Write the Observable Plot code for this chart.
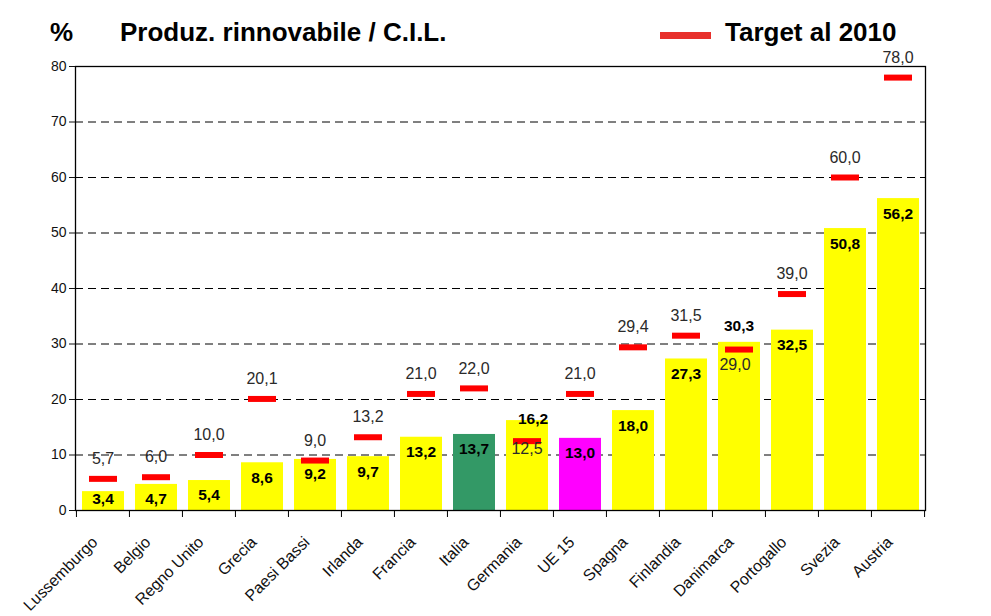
<!DOCTYPE html>
<html>
<head>
<meta charset="utf-8">
<script src="https://cdn.jsdelivr.net/npm/d3@7"></script>
<script src="https://cdn.jsdelivr.net/npm/@observablehq/plot@0.6"></script>
<style>
  html, body { margin: 0; padding: 0; background: #fff; }
  #wrap { position: relative; width: 991px; height: 616px; font-family: "Liberation Sans", Arial, sans-serif; }
  #chart { position: absolute; left: 0; top: 0; }
  .ttl { position: absolute; font-family: "Liberation Sans", Arial, sans-serif; font-weight: bold; font-size: 26px; color: #000; line-height: 1; white-space: nowrap; }
  #legline { position: absolute; left: 660px; top: 32px; width: 51px; height: 7px; background: #e8302c; }
</style>
</head>
<body>
<div id="wrap">
  <div id="chart"></div>
  <div class="ttl" style="left:50px; top:19px;">%</div>
  <div class="ttl" style="left:120px; top:19px;">Produz. rinnovabile / C.I.L.</div>
  <div id="legline"></div>
  <div class="ttl" style="left:725px; top:19px;">Target al 2010</div>
</div>
<script>
const categories = ["Lussemburgo","Belgio","Regno Unito","Grecia","Paesi Bassi","Irlanda","Francia","Italia","Germania","UE 15","Spagna","Finlandia","Danimarca","Portogallo","Svezia","Austria"];
const production = [3.4,4.7,5.4,8.6,9.2,9.7,13.2,13.7,16.2,13.0,18.0,27.3,30.3,32.5,50.8,56.2];
const target2010 = [5.7,6.0,10.0,20.1,9.0,13.2,21.0,22.0,12.5,21.0,29.4,31.5,29.0,39.0,60.0,78.0];
const yTicks = [0,10,20,30,40,50,60,70,80];

const data = categories.map((name, i) => ({name, value: production[i], target: target2010[i]}));
const fmt = v => d3.format(".1f")(v).replace(".", ",");

const W = 991, H = 616, mL = 75, mR = 66, mT = 66, mB = 106;
const step = (W - mL - mR) / categories.length;

const fillOf = d => d.name === "Italia" ? "#339966" : d.name === "UE 15" ? "#FF00FF" : "#FFFF00";

// label placement groups
const valAbove = ["Germania"];
const valAboveHigh = ["Danimarca"];
const valShort = ["Lussemburgo"];
const tgtBelow = ["Danimarca"];
const tgtBelowNear = ["Germania"];

const valNormal = data.filter(d => ![...valAbove, ...valAboveHigh, ...valShort].includes(d.name));
const tgtNormal = data.filter(d => ![...tgtBelow, ...tgtBelowNear].includes(d.name));
const pick = names => data.filter(d => names.includes(d.name));

const valStyle = {fontSize: 15.5, fontWeight: "bold", fill: "#000", fontFamily: "Liberation Sans, Arial, sans-serif"};
const tgtStyle = {fontSize: 16, fill: "#2a2a2a", fontFamily: "Liberation Sans, Arial, sans-serif"};

const chart = Plot.plot({
  width: W, height: H,
  marginLeft: mL, marginRight: mR, marginTop: mT, marginBottom: mB,
  style: {fontFamily: "Liberation Sans, Arial, sans-serif", background: "#fff", overflow: "visible"},
  x: {domain: categories, padding: 0, label: null},
  y: {domain: [0, 80], label: null},
  marks: [
    Plot.gridY(yTicks.filter(t => t > 0 && t < 80), {stroke: "#000", strokeOpacity: 1, strokeWidth: 1, strokeDasharray: "8,5"}),
    Plot.barY(data, {x: "name", y: "value", fill: fillOf, insetLeft: 6, insetRight: 5}),
    Plot.frame({stroke: "#000", strokeWidth: 1.3}),
    Plot.tickY(data, {x: "name", y: "target", stroke: "#FF0000", strokeWidth: 6, insetLeft: 13, insetRight: 12}),
    // value labels
    Plot.text(valNormal, {x: "name", y: "value", text: d => fmt(d.value), dy: 15, ...valStyle}),
    Plot.text(pick(valShort), {x: "name", y: "value", text: d => fmt(d.value), dy: 7, ...valStyle}),
    Plot.text(pick(valAbove), {x: "name", y: "value", text: d => fmt(d.value), dy: -2, dx: 6, ...valStyle}),
    Plot.text(pick(valAboveHigh), {x: "name", y: "value", text: d => fmt(d.value), dy: -16, ...valStyle}),
    // target labels
    Plot.text(tgtNormal, {x: "name", y: "target", text: d => fmt(d.target), dy: -20, ...tgtStyle}),
    Plot.text(pick(tgtBelowNear), {x: "name", y: "target", text: d => fmt(d.target), dy: 8, dx: 0, ...tgtStyle}),
    Plot.text(pick(tgtBelow), {x: "name", y: "target", text: d => fmt(d.target), dy: 15, dx: -4, ...tgtStyle}),
    // axes
    Plot.axisY({ticks: yTicks, tickSize: 6, tickPadding: 3, fontSize: 14, tickFormat: d => String(d), color: "#111"}),
    Plot.axisX({tickSize: 0, tickRotate: -45, tickPadding: 29, dx: -8, fontSize: 16, color: "#111"}),
    Plot.axisX({text: null, tickSize: 7, dx: -step / 2}),
    Plot.axisX({ticks: [categories[categories.length - 1]], text: null, tickSize: 7, dx: step / 2})
  ]
});
document.getElementById("chart").appendChild(chart);
</script>
</body>
</html>
